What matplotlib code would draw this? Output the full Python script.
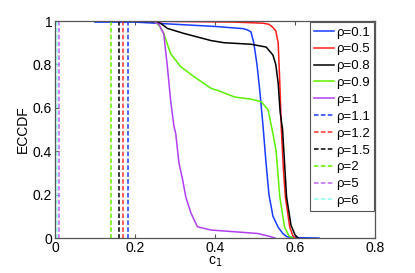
"""
ECCDF of c_1 for several rho values
"""
import matplotlib
matplotlib.use('Agg')
import matplotlib.pyplot as plt

plt.rcParams['font.family'] = ['Liberation Sans', 'DejaVu Sans']

# ---------------- data ----------------
c_01 = [0.10, 0.20, 0.25, 0.30, 0.40, 0.47, 0.48, 0.49, 0.497, 0.505, 0.512, 0.52,
        0.527, 0.535, 0.545, 0.558, 0.57, 0.58, 0.60, 0.66]
y_01 = [0.995, 0.995, 0.99, 0.985, 0.975, 0.965, 0.96, 0.95, 0.90, 0.80, 0.68, 0.52,
        0.36, 0.20, 0.10, 0.05, 0.02, 0.006, 0.002, 0.0]

c_05 = [0.10, 0.30, 0.45, 0.52, 0.535, 0.545, 0.552, 0.558, 0.562, 0.566, 0.571,
        0.576, 0.587, 0.595, 0.60]
y_05 = [1.0, 0.998, 0.995, 0.99, 0.985, 0.97, 0.955, 0.90, 0.72, 0.50, 0.32,
        0.19, 0.05, 0.01, 0.0]

c_08 = [0.10, 0.24, 0.264, 0.281, 0.322, 0.39, 0.423, 0.49, 0.528, 0.545, 0.552,
        0.558, 0.563, 0.569, 0.579, 0.59, 0.60, 0.608]
y_08 = [1.0, 0.998, 0.99, 0.966, 0.943, 0.91, 0.90, 0.893, 0.88, 0.843, 0.80,
        0.714, 0.58, 0.50, 0.19, 0.06, 0.015, 0.0]

c_09 = [0.10, 0.247, 0.26, 0.272, 0.289, 0.314, 0.348, 0.39, 0.407, 0.449, 0.49,
        0.516, 0.533, 0.545, 0.553, 0.562, 0.574, 0.585, 0.595]
y_09 = [1.0, 1.0, 0.98, 0.943, 0.85, 0.79, 0.743, 0.69, 0.68, 0.65, 0.64,
        0.628, 0.59, 0.48, 0.40, 0.19, 0.05, 0.01, 0.0]

c_1 = [0.10, 0.245, 0.26, 0.272, 0.281, 0.289, 0.297, 0.302, 0.31, 0.319, 0.327,
       0.34, 0.356, 0.39, 0.449, 0.507, 0.54, 0.55]
y_1 = [1.0, 1.0, 0.985, 0.94, 0.79, 0.636, 0.52, 0.48, 0.345, 0.27, 0.19,
       0.115, 0.052, 0.037, 0.029, 0.021, 0.006, 0.0]

solid_rho = ['0.1', '0.5', '0.8', '0.9', '1']
solid_c = [c_01, c_05, c_08, c_09, c_1]
solid_y = [y_01, y_05, y_08, y_09, y_1]
solid_col = ['#1a3cff', '#ff1a1a', '#000000', '#5ef000', '#b040f0']

# the large rho cases jump from 1 to 0 at a single c value
step_rho = ['1.1', '1.2', '1.5', '2', '5', '6']
step_c = [0.183, 0.171, 0.160, 0.141, 0.010, 0.0055]
step_col = ['#1a3cff', '#ff3030', '#000000', '#66ee00', '#c066ff', '#90ffe8']

# -------------------------------------------------------------
fig = plt.figure(figsize=(4.15, 2.73), dpi=100)
ax = fig.add_axes([0.1325, 0.128, 0.771, 0.795])

for rho, c, y, col in zip(solid_rho, solid_c, solid_y, solid_col):
    ax.plot(c, y, color=col, lw=1.1, label='\u03c1=' + rho)
for rho, c, col in zip(step_rho, step_c, step_col):
    ax.plot([c, c], [1, 0], color=col, lw=1.1, ls=(0, (3, 1.5)), label='\u03c1=' + rho)

ax.set_xlim(0, 0.8)
ax.set_ylim(0, 1)
ax.set_xticks([0, 0.2, 0.4, 0.6, 0.8])
ax.set_xticklabels(['0', '0.2', '0.4', '0.6', '0.8'])
ax.set_yticks([0, 0.2, 0.4, 0.6, 0.8, 1])
ax.set_yticklabels(['0', '0.2', '0.4', '0.6', '0.8', '1'])
ax.tick_params(direction='in', top=True, right=True, labelsize=10, length=3,
               color='#555555', pad=2)
for s in ax.spines.values():
    s.set_color('#555555')
    s.set_linewidth(0.9)

ax.set_xlabel('c$_1$', fontsize=10, labelpad=0)
ax.set_ylabel('ECCDF', fontsize=10, labelpad=2)

leg = ax.legend(loc='upper right', fontsize=9.5, handlelength=1.5, handletextpad=0.15,
                labelspacing=0.35, borderaxespad=0.1, borderpad=0.3,
                fancybox=False, framealpha=1)
leg.get_frame().set_edgecolor('#555555')
leg.get_frame().set_linewidth(0.8)

plt.savefig('out.png', dpi=100)
